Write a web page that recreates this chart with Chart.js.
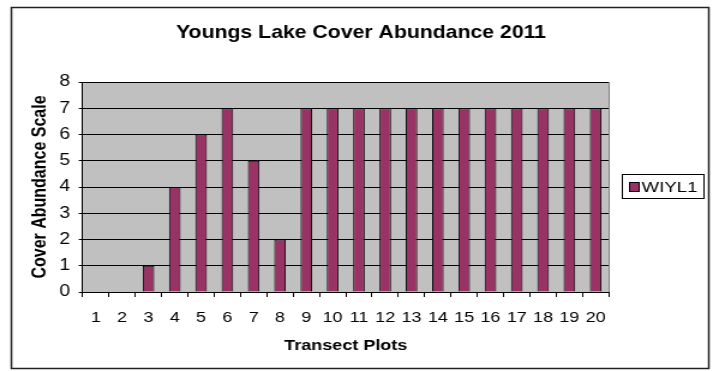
<!DOCTYPE html>
<html>
<head>
<meta charset="utf-8">
<title>Youngs Lake Cover Abundance 2011</title>
<script src="https://cdn.jsdelivr.net/npm/chart.js@4/dist/chart.umd.min.js"></script>
<style>
  html, body { margin: 0; padding: 0; background: #fff; overflow: hidden; }
  /* the sheet is drawn narrow and widened, like the old spreadsheet export */
  #wrap { width: 594px; height: 371px; transform: scaleX(1.2003); transform-origin: 0 0; }
</style>
</head>
<body>
<div id="wrap"><canvas id="chart" width="594" height="371" style="width:594px;height:371px"></canvas></div>
<script>
const chartTitle = 'Youngs Lake Cover Abundance 2011';
const seriesName = 'WIYL1';
const plots = ['1', '2', '3', '4', '5', '6', '7', '8', '9', '10',
               '11', '12', '13', '14', '15', '16', '17', '18', '19', '20'];
const wiyl1 = [0, 0, 1, 4, 6, 7, 5, 2, 7, 7, 7, 7, 7, 7, 7, 7, 7, 7, 7, 7];
const yTicks = [0, 1, 2, 3, 4, 5, 6, 7, 8];

const FONT = "'Liberation Sans', Arial, Helvetica, sans-serif";
Chart.defaults.font.family = FONT;
Chart.defaults.color = '#000';

// plot background, title, legend box and outer frame
const sheetFrame = {
  id: 'sheetFrame',
  beforeDraw(chart) {
    const { ctx, chartArea: a } = chart;
    ctx.save();
    ctx.fillStyle = '#fff';
    ctx.fillRect(0, 0, chart.width, chart.height);
    ctx.fillStyle = '#c0c0c0';
    ctx.fillRect(a.left, a.top, a.right - a.left, a.bottom - a.top);
    ctx.restore();
  },
  afterDraw(chart) {
    const { ctx, chartArea: a } = chart;
    const ds = chart.data.datasets[0];
    ctx.save();

    // right edge of plot area
    ctx.strokeStyle = '#808080';
    ctx.lineWidth = 1;
    ctx.beginPath();
    ctx.moveTo(Math.round(a.right) + 0.5, a.top);
    ctx.lineTo(Math.round(a.right) + 0.5, a.bottom);
    ctx.stroke();

    // title
    ctx.fillStyle = '#000';
    ctx.font = 'bold 17.7px ' + FONT;
    ctx.textAlign = 'center';
    ctx.textBaseline = 'middle';
    ctx.fillText(chartTitle, 300.8, 33);

    // legend
    ctx.strokeStyle = '#000';
    ctx.lineWidth = 1;
    ctx.strokeRect(518.5, 174.5, 68, 24);
    ctx.fillStyle = ds.backgroundColor;
    ctx.fillRect(524.5, 182, 8, 10);
    ctx.strokeRect(524.5, 182.5, 8, 9);
    ctx.fillStyle = '#000';
    ctx.font = '15.5px ' + FONT;
    ctx.textAlign = 'left';
    ctx.fillText(ds.label, 534.5, 187.5);

    // outer frame
    ctx.strokeStyle = '#222';
    ctx.lineWidth = 1.5;
    ctx.strokeRect(9.5, 7.5, 581, 361);
    ctx.restore();
  }
};

new Chart(document.getElementById('chart'), {
  type: 'bar',
  data: {
    labels: plots,
    datasets: [{
      label: seriesName,
      data: wiyl1,
      backgroundColor: '#993366',
      borderColor: '#000',
      borderWidth: 1,
      borderSkipped: 'bottom',
      barPercentage: 0.44,
      categoryPercentage: 1
    }]
  },
  options: {
    responsive: false,
    animation: false,
    devicePixelRatio: 1,
    layout: { padding: { left: 9, right: 86.75, top: 82, bottom: 3 } },
    plugins: {
      legend: { display: false },
      title: { display: false },
      tooltip: { enabled: false }
    },
    scales: {
      x: {
        afterFit: (s) => { s.height = 76; },
        grid: {
          display: true,
          offset: true,
          drawOnChartArea: false,
          drawTicks: true,
          tickLength: 5,
          color: '#000'
        },
        border: { color: '#000', width: 1 },
        ticks: { font: { size: 15 }, padding: 11.5, maxRotation: 0, autoSkip: false },
        title: {
          display: true,
          text: 'Transect Plots',
          font: { size: 15, weight: 'bold' },
          padding: { top: 0, bottom: 13 }
        }
      },
      y: {
        min: yTicks[0],
        max: yTicks[yTicks.length - 1],
        afterFit: (s) => { s.width = 59.9; },
        grid: { color: '#000', tickLength: 3.3, drawTicks: true },
        border: { color: '#000', width: 1 },
        ticks: { stepSize: 1, font: { size: 16 }, padding: 7.3 },
        title: {
          display: true,
          text: 'Cover Abundance Scale',
          font: { size: 16, weight: 'bold' },
          padding: { top: 14.7, bottom: 0 }
        }
      }
    }
  },
  plugins: [sheetFrame]
});
</script>
</body>
</html>
